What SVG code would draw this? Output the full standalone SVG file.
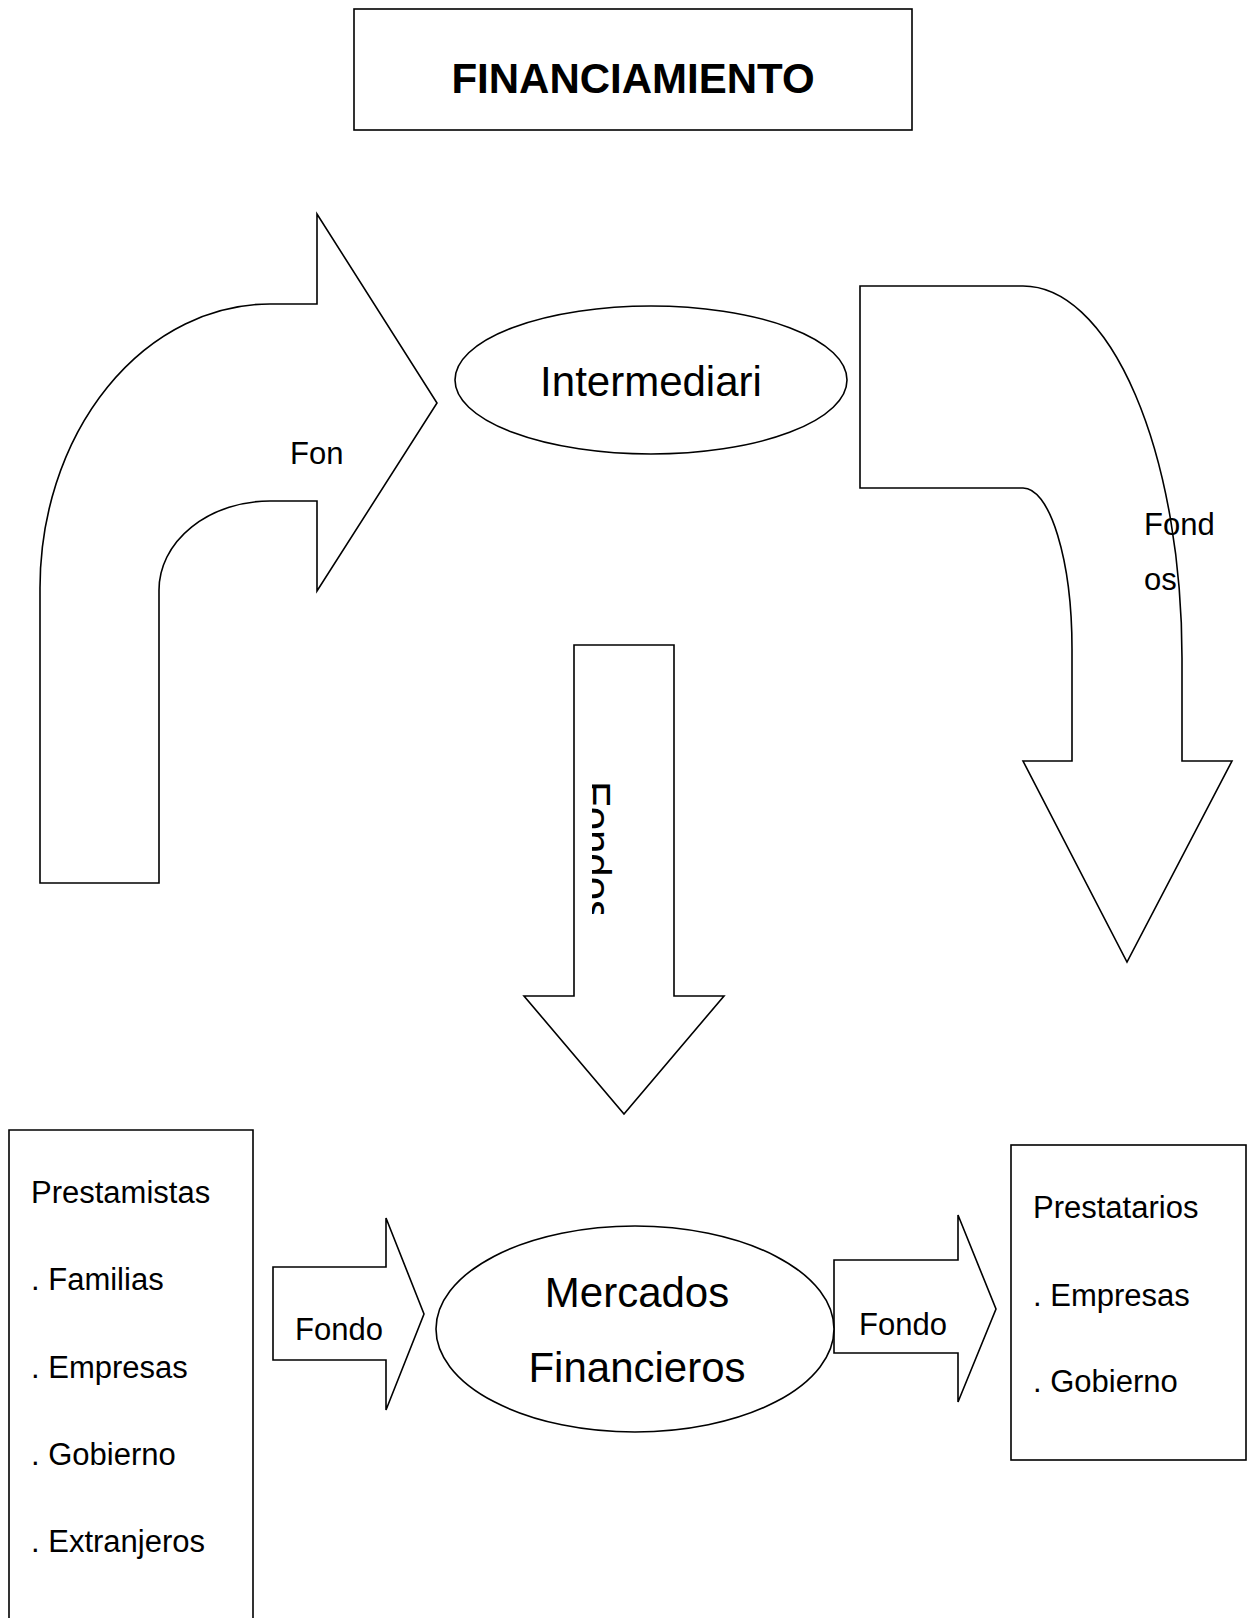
<svg xmlns="http://www.w3.org/2000/svg" width="1254" height="1618" viewBox="0 0 1254 1618">
<style>
.s{fill:#fff;stroke:#000;stroke-width:1.6;stroke-linejoin:miter}
.t{font-family:"Liberation Sans",Arial,sans-serif;fill:#000}
.sm{font-size:31px}
.lg{font-size:42px}
</style>
<defs>
<clipPath id="clipV"><rect x="592" y="760" width="40" height="154"/></clipPath>
</defs>
<rect width="1254" height="1618" fill="#fff"/>
<g id="title">
<rect class="s" x="354" y="9" width="558" height="121"/>
<text class="t lg" x="633" y="93" text-anchor="middle" font-weight="bold">FINANCIAMIENTO</text>
</g>
<g id="connectors">
<g id="arrow-curved-left">
<path class="s" d="M40 883 L40 588 A230 284 0 0 1 270 304 L317 304 L317 214 L437 403 L317 591 L317 501 L270 501 A111 89 0 0 0 159 590 L159 883 Z"/>
<text class="t sm" x="290" y="464">Fon</text>
</g>
<g id="arrow-curved-right">
<path class="s" d="M860 286 L1023 286 A159 372 0 0 1 1182 658 L1182 761 L1232 761 L1127 962 L1023 761 L1072 761 L1072 649 A49 161 0 0 0 1023 488 L860 488 Z"/>
<text class="t sm" x="1144" y="535">Fond</text>
<text class="t sm" x="1144" y="590">os</text>
</g>
<g id="arrow-down-middle">
<path class="s" d="M574 645 L674 645 L674 996 L724 996 L624 1114 L524 996 L574 996 Z"/>
<g clip-path="url(#clipV)">
<text class="t lg" transform="translate(581 781) rotate(90)">Fondos</text>
</g>
</g>
<g id="arrow-left-small">
<path class="s" d="M273 1267 L386 1267 L386 1218 L424 1314 L386 1410 L386 1360 L273 1360 Z"/>
<text class="t sm" x="295" y="1340">Fondo</text>
</g>
<g id="arrow-right-small">
<path class="s" d="M834 1260 L958 1260 L958 1215 L996 1309 L958 1402 L958 1353 L834 1353 Z"/>
<text class="t sm" x="859" y="1335">Fondo</text>
</g>
</g>
<g id="intermediari">
<ellipse class="s" cx="651" cy="380" rx="196" ry="74"/>
<text class="t lg" x="651" y="396" text-anchor="middle">Intermediari</text>
</g>
<g id="mercados">
<ellipse class="s" cx="635" cy="1329" rx="199" ry="103"/>
<text class="t lg" x="637" y="1307" text-anchor="middle">Mercados</text>
<text class="t lg" x="637" y="1382" text-anchor="middle">Financieros</text>
</g>
<g id="prestamistas">
<path class="s" d="M9 1640 L9 1130 L253 1130 L253 1640"/>
<text class="t sm" x="31" y="1203">Prestamistas</text>
<text class="t sm" x="31" y="1290">. Familias</text>
<text class="t sm" x="31" y="1378">. Empresas</text>
<text class="t sm" x="31" y="1465">. Gobierno</text>
<text class="t sm" x="31" y="1552">. Extranjeros</text>
</g>
<g id="prestatarios">
<rect class="s" x="1011" y="1145" width="235" height="315"/>
<text class="t sm" x="1033" y="1218">Prestatarios</text>
<text class="t sm" x="1033" y="1306">. Empresas</text>
<text class="t sm" x="1033" y="1392">. Gobierno</text>
</g>
</svg>
